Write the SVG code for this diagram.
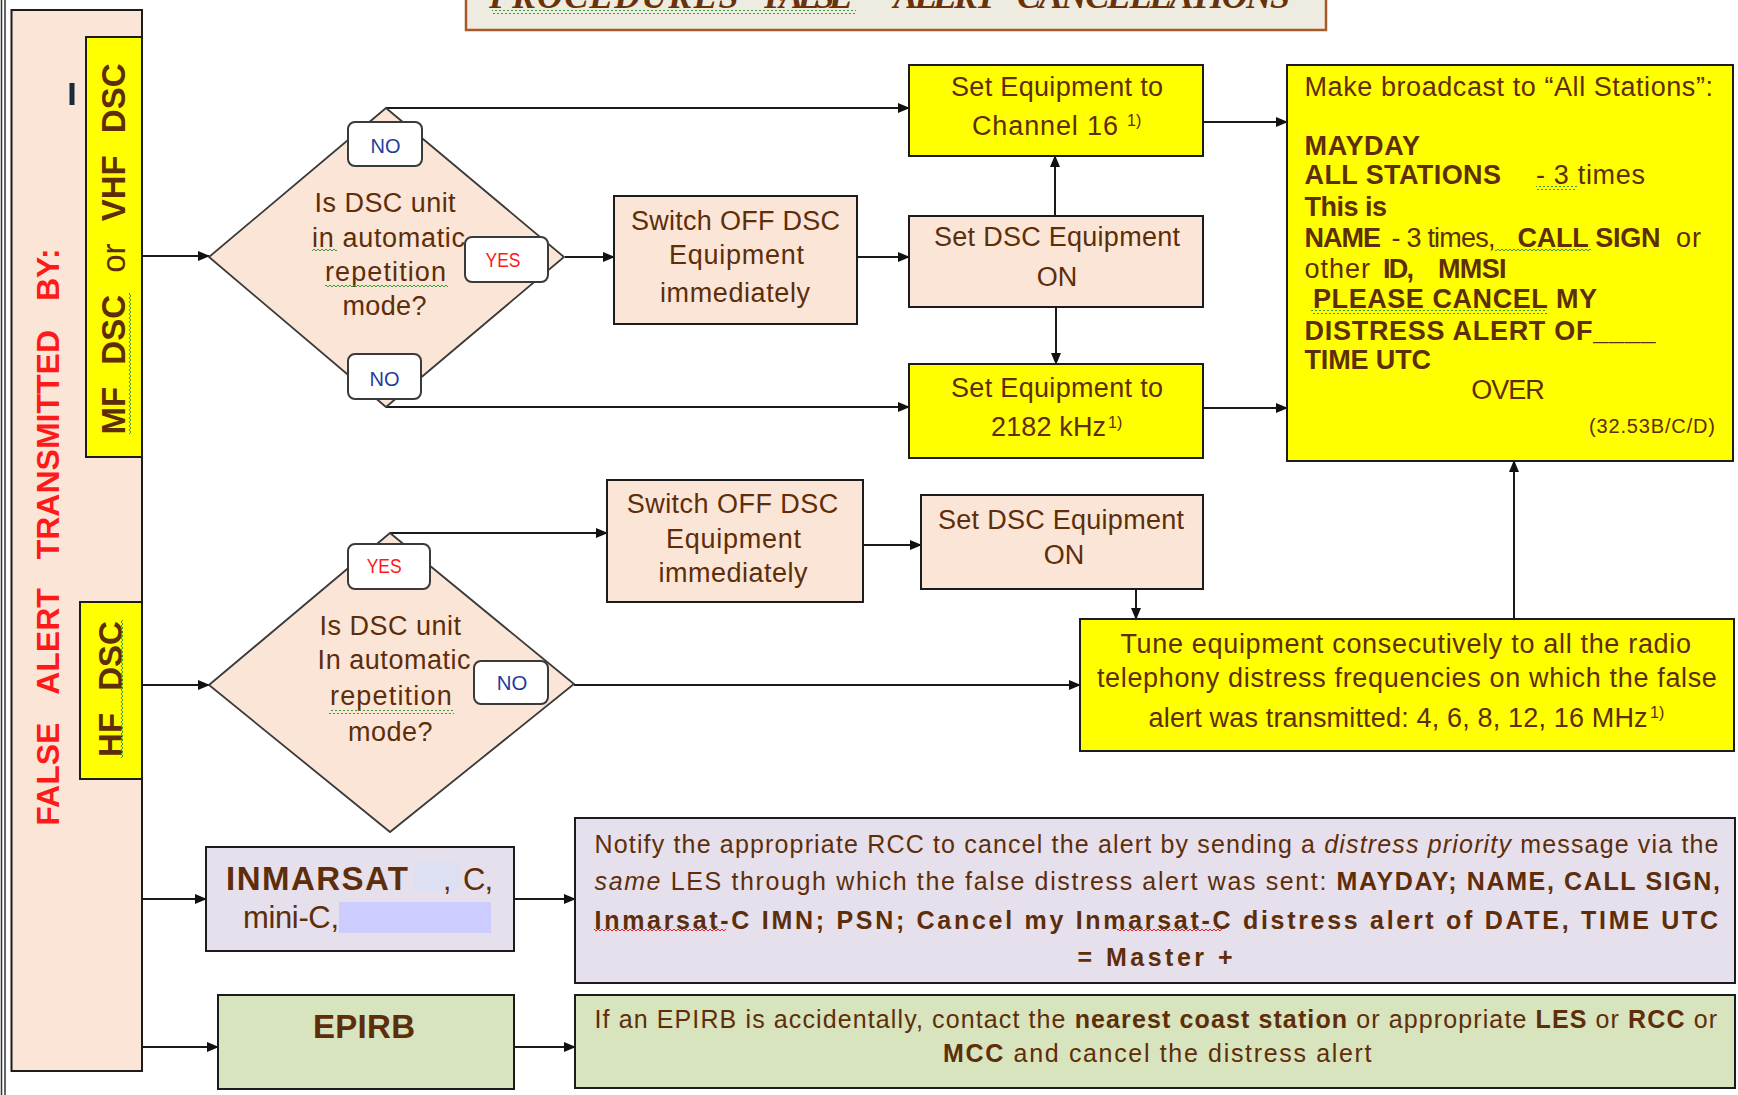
<svg xmlns="http://www.w3.org/2000/svg" width="1738" height="1095" viewBox="0 0 1738 1095">
<style>
.box{stroke:#1c1c1c;stroke-width:2}
.peach{fill:#fbe5d6}
.yel{fill:#ffff00}
.lav{fill:#e5e0ec}
.grn{fill:#d7e4bd}
.t{font-family:"Liberation Sans",Arial,sans-serif;fill:#5e2d0a;font-size:27px}
.s25{font-size:25px}
.b{font-weight:bold}
.i{font-style:italic}
.n{font-weight:normal}
.c{text-anchor:middle}
.lbl{fill:#ffffff;stroke:#3a3a3a;stroke-width:2}
.lt{font-family:"Liberation Sans",Arial,sans-serif;font-size:20px;text-anchor:middle}
.no{fill:#1f3c9c}
.yes{fill:#ff1a1a}
.dia{fill:#fbe5d6;stroke:#3a3a3a;stroke-width:1.8}
.conn{stroke:#1a1a1a;stroke-width:2;fill:none;marker-end:url(#ah)}
.sup{font-size:16px}
</style>
<defs>
<marker id="ah" markerWidth="12" markerHeight="10" refX="11" refY="5" orient="auto" markerUnits="userSpaceOnUse"><path d="M0,0 L12,5 L0,10 z" fill="#111"/></marker>
<pattern id="sqg" patternUnits="userSpaceOnUse" width="4" height="4"><path d="M0,3 L2,1 L4,3" stroke="#3a9a3a" stroke-width="1" fill="none"/></pattern>
<pattern id="sqr" patternUnits="userSpaceOnUse" width="4" height="4"><path d="M0,3 L2,1 L4,3" stroke="#e02020" stroke-width="1" fill="none"/></pattern>
<pattern id="sqgv" patternUnits="userSpaceOnUse" width="4" height="4"><path d="M3,0 L1,2 L3,4" stroke="#3a9a3a" stroke-width="1" fill="none"/></pattern>
</defs>
<rect width="1738" height="1095" fill="#ffffff"/>

<!-- outer left double line -->
<line x1="1.5" y1="0" x2="1.5" y2="1095" stroke="#333" stroke-width="1.5"/>
<line x1="5" y1="0" x2="5" y2="1095" stroke="#333" stroke-width="1.5"/>

<!-- title -->
<g id="title">
<rect x="466" y="-4" width="860" height="34" fill="#eeece1" stroke="#a9582a" stroke-width="2.5"/>
<g font-family="'Liberation Serif','Times New Roman',serif" font-style="italic" font-weight="bold" font-size="36" fill="#6a3208">
<text x="489" y="8" textLength="249.5">PROCEDURES</text>
<text x="764" y="8" textLength="89">FALSE</text>
<text x="893.5" y="8" textLength="103.5">ALERT</text>
<text x="1017" y="8" textLength="273">CANCELLATIONS</text>
</g>
<rect x="492" y="10" width="364" height="4" fill="url(#sqg)"/>
</g>

<!-- left panel -->
<g id="panel">
<rect x="11.5" y="10" width="130.5" height="1061" class="box peach"/>
<text transform="translate(47,537) rotate(-90)" y="11.5" font-family="'Liberation Sans',Arial,sans-serif" font-weight="bold" font-size="32" fill="#ff1a1a" text-anchor="middle" word-spacing="20">FALSE ALERT TRANSMITTED BY:</text>
<rect x="69.5" y="83" width="5" height="22" fill="#1a2a3a"/>
</g>

<g id="mfvhf">
<rect x="86" y="37" width="56" height="420" class="box yel"/>
<text transform="translate(113.3,249) rotate(-90)" y="12" class="t b c" style="font-size:33px" word-spacing="13">MF DSC <tspan class="n">or</tspan> VHF DSC</text>
<rect x="127" y="293" width="4" height="141" fill="url(#sqgv)"/>
</g>

<g id="hf">
<rect x="80" y="602" width="62" height="177" class="box yel"/>
<text transform="translate(110,689) rotate(-90)" y="12" class="t b c" style="font-size:33px" word-spacing="13">HF DSC</text>
<rect x="121" y="620" width="4" height="138" fill="url(#sqgv)"/>
</g>

<!-- connectors -->
<g id="connectors">
<line x1="142" y1="256" x2="209" y2="256" class="conn"/>
<line x1="142" y1="685" x2="209" y2="685" class="conn"/>
<line x1="142" y1="899" x2="206" y2="899" class="conn"/>
<line x1="142" y1="1047" x2="218" y2="1047" class="conn"/>
<polyline points="386,108 909,108" class="conn"/>
<line x1="565" y1="257" x2="614" y2="257" class="conn"/>
<polyline points="386,407 909,407" class="conn"/>
<line x1="857" y1="257" x2="909" y2="257" class="conn"/>
<line x1="1055" y1="216" x2="1055" y2="156" class="conn"/>
<line x1="1056" y1="307" x2="1056" y2="364" class="conn"/>
<line x1="1203" y1="122" x2="1287" y2="122" class="conn"/>
<line x1="1203" y1="408" x2="1287" y2="408" class="conn"/>
<polyline points="390,533 607,533" class="conn"/>
<line x1="574" y1="685" x2="1080" y2="685" class="conn"/>
<line x1="863" y1="545" x2="921" y2="545" class="conn"/>
<line x1="1136" y1="589" x2="1136" y2="619" class="conn"/>
<line x1="1514" y1="619" x2="1514" y2="461" class="conn"/>
<line x1="514" y1="899" x2="575" y2="899" class="conn"/>
<line x1="514" y1="1047" x2="575" y2="1047" class="conn"/>
</g>

<!-- diamond 1 -->
<g id="decision1">
<polygon points="209,257 386,108 564,257 386,407" class="dia"/>
<text class="t" x="314.6" y="211.7" textLength="141">Is DSC unit</text>
<text class="t" x="312" y="246.7" textLength="153">in automatic</text>
<text class="t" x="325" y="280.5" textLength="121">repetition</text>
<text class="t" x="342.5" y="315" textLength="84">mode?</text>
<rect x="312" y="248" width="25" height="4" fill="url(#sqg)"/>
<rect x="325" y="283" width="123" height="4" fill="url(#sqg)"/>
<rect x="348" y="122" width="74" height="44" rx="7" class="lbl"/>
<text x="385.5" y="152.5" class="lt no" textLength="30" lengthAdjust="spacingAndGlyphs">NO</text>
<rect x="465" y="237" width="83" height="45" rx="7" class="lbl"/>
<text x="503" y="267" class="lt yes" textLength="35" lengthAdjust="spacingAndGlyphs">YES</text>
<rect x="348" y="354" width="73" height="45" rx="7" class="lbl"/>
<text x="384.6" y="386" class="lt no" textLength="30" lengthAdjust="spacingAndGlyphs">NO</text>
</g>

<!-- diamond 2 -->
<g id="decision2">
<polygon points="209,685 390,533 574,684 390,832" class="dia"/>
<text class="t" x="319.5" y="635" textLength="141.5">Is DSC unit</text>
<text class="t" x="317.6" y="669.3" textLength="153">In automatic</text>
<text class="t" x="330" y="705" textLength="121.7">repetition</text>
<text class="t" x="348" y="740.7" textLength="84.5">mode?</text>
<rect x="329" y="710" width="125" height="4" fill="url(#sqg)"/>
<rect x="348" y="544" width="82" height="45" rx="7" class="lbl"/>
<text x="384.2" y="573" class="lt yes" textLength="35" lengthAdjust="spacingAndGlyphs">YES</text>
<rect x="474" y="661" width="74" height="43" rx="7" class="lbl"/>
<text x="512" y="690" class="lt no" textLength="30.6" lengthAdjust="spacingAndGlyphs">NO</text>
</g>

<!-- switch off 1 -->
<g id="switch1">
<rect x="614" y="196" width="243" height="128" class="box peach"/>
<text class="t c" x="735.5" y="229.5" textLength="209">Switch OFF DSC</text>
<text class="t c" x="736.5" y="263.5" textLength="135">Equipment</text>
<text class="t c" x="735" y="301.5" textLength="150">immediately</text>
</g>

<!-- set dsc on 1 -->
<g id="setdsc1">
<rect x="909" y="216" width="294" height="91" class="box peach"/>
<text class="t c" x="1057" y="246" textLength="246">Set DSC Equipment</text>
<text class="t c" x="1057" y="286">ON</text>
</g>

<!-- channel 16 -->
<g id="ch16">
<rect x="909" y="65" width="294" height="91" class="box yel"/>
<text class="t c" x="1057" y="96" textLength="212">Set Equipment to</text>
<text class="t" x="972" y="134.5" textLength="146">Channel 16</text>
<text class="t sup" x="1127" y="126">1)</text>
</g>

<!-- 2182 -->
<g id="khz2182">
<rect x="909" y="364" width="294" height="94" class="box yel"/>
<text class="t c" x="1057" y="397" textLength="212">Set Equipment to</text>
<text class="t" x="991" y="436" textLength="115">2182 kHz</text>
<text class="t sup" x="1108" y="428">1)</text>
</g>

<!-- broadcast -->
<g id="broadcast">
<rect x="1287" y="65" width="446" height="396" class="box yel"/>
<text class="t" x="1304.5" y="96" textLength="408.5">Make broadcast to “All Stations”:</text>
<text class="t b" x="1304.5" y="155" textLength="115.5">MAYDAY</text>
<text class="t b" x="1304.5" y="184.3" textLength="196.5">ALL STATIONS</text>
<text class="t" x="1536" y="184.3" textLength="109">- 3 times</text>
<text class="t b" x="1304.5" y="216" textLength="82.5">This is</text>
<text class="t b" x="1304.5" y="246.7" textLength="76.5">NAME</text>
<text class="t" x="1391.5" y="246.7" textLength="104">- 3 times,</text>
<text class="t b" x="1517.5" y="246.7" textLength="143">CALL SIGN</text>
<text class="t" x="1676" y="246.7" textLength="25">or</text>
<text class="t" x="1304.5" y="278.3" textLength="65.5">other</text>
<text class="t b" x="1383" y="278.3" textLength="31">ID,</text>
<text class="t b" x="1438" y="278.3" textLength="68.5">MMSI</text>
<text class="t b" x="1313" y="308.3" textLength="284">PLEASE CANCEL MY</text>
<text class="t b" x="1304.5" y="340" textLength="351">DISTRESS ALERT OF____</text>
<text class="t b" x="1304.5" y="369.3" textLength="126.5">TIME UTC</text>
<text class="t c" x="1508" y="399.3" textLength="73.5">OVER</text>
<text class="t" x="1715" y="433" style="font-size:20px" text-anchor="end" textLength="126">(32.53B/C/D)</text>
<rect x="1536" y="186" width="41" height="4" fill="url(#sqg)"/>
<rect x="1495" y="249" width="96" height="4" fill="url(#sqg)"/>
<rect x="1311" y="310" width="236" height="4" fill="url(#sqg)"/>
</g>

<!-- switch off 2 -->
<g id="switch2">
<rect x="607" y="480" width="256" height="122" class="box peach"/>
<text class="t c" x="732.5" y="513" textLength="211.6">Switch OFF DSC</text>
<text class="t c" x="733.5" y="548" textLength="135">Equipment</text>
<text class="t c" x="733" y="581.7" textLength="149">immediately</text>
</g>

<!-- set dsc on 2 -->
<g id="setdsc2">
<rect x="921" y="495" width="282" height="94" class="box peach"/>
<text class="t c" x="1061" y="529" textLength="246">Set DSC Equipment</text>
<text class="t c" x="1064" y="564">ON</text>
</g>

<!-- tune -->
<g id="tune">
<rect x="1080" y="619" width="654" height="132" class="box yel"/>
<text class="t c" x="1405.7" y="652.7" textLength="570.6">Tune equipment consecutively to all the radio</text>
<text class="t c" x="1406.9" y="686.7" textLength="620">telephony distress frequencies on which the false</text>
<text class="t" x="1148.6" y="726.7" textLength="499">alert was transmitted: 4, 6, 8, 12, 16 MHz</text>
<text class="t sup" x="1650" y="718">1)</text>
</g>

<!-- inmarsat -->
<g id="inmarsat">
<rect x="206" y="847" width="308" height="104" class="box lav"/>
<rect x="414" y="861" width="46" height="30" fill="#dce0f2"/>
<rect x="339" y="902" width="152" height="31" fill="#ccccff"/>
<text class="t b" x="226" y="890" style="font-size:33px" textLength="182">INMARSAT</text>
<text class="t" x="443" y="890" style="font-size:30px">,</text>
<text class="t" x="463" y="890" style="font-size:31px" textLength="30">C,</text>
<text class="t" x="243" y="928" style="font-size:31px" textLength="96">mini-C,</text>
</g>

<!-- notify -->
<g id="notify">
<rect x="575" y="818" width="1160" height="165" class="box lav"/>
<text class="t s25" x="594.5" y="853" textLength="1124">Notify the appropriate RCC to cancel the alert by sending a <tspan class="i">distress priority</tspan> message via the</text>
<text class="t s25" x="594.5" y="890" textLength="1125.5"><tspan class="i">same</tspan> LES through which the false distress alert was sent: <tspan class="b">MAYDAY;  NAME,  CALL SIGN,</tspan></text>
<text class="t s25 b" x="594.5" y="929" textLength="1123.5">Inmarsat-C IMN; PSN; Cancel my Inmarsat-C distress  alert of DATE, TIME UTC</text>
<text class="t s25 b c" x="1155" y="966" textLength="155">= Master +</text>
<rect x="594" y="928" width="132" height="4" fill="url(#sqr)"/>
<rect x="1117" y="928" width="105" height="4" fill="url(#sqr)"/>
</g>

<!-- epirb -->
<g id="epirb">
<rect x="218" y="995" width="296" height="94" class="box grn"/>
<text class="t b c" x="364" y="1038" style="font-size:33px" textLength="102">EPIRB</text>
</g>

<g id="epirbaction">
<rect x="575" y="995" width="1160" height="93" class="box grn"/>
<text class="t s25" x="594.5" y="1028" textLength="1122.5">If an EPIRB is accidentally, contact the <tspan class="b">nearest coast station</tspan> or appropriate <tspan class="b">LES</tspan> or <tspan class="b">RCC</tspan> or</text>
<text class="t s25" x="943" y="1062" textLength="428.5"><tspan class="b">MCC</tspan> and cancel the distress alert</text>
</g>
</svg>
